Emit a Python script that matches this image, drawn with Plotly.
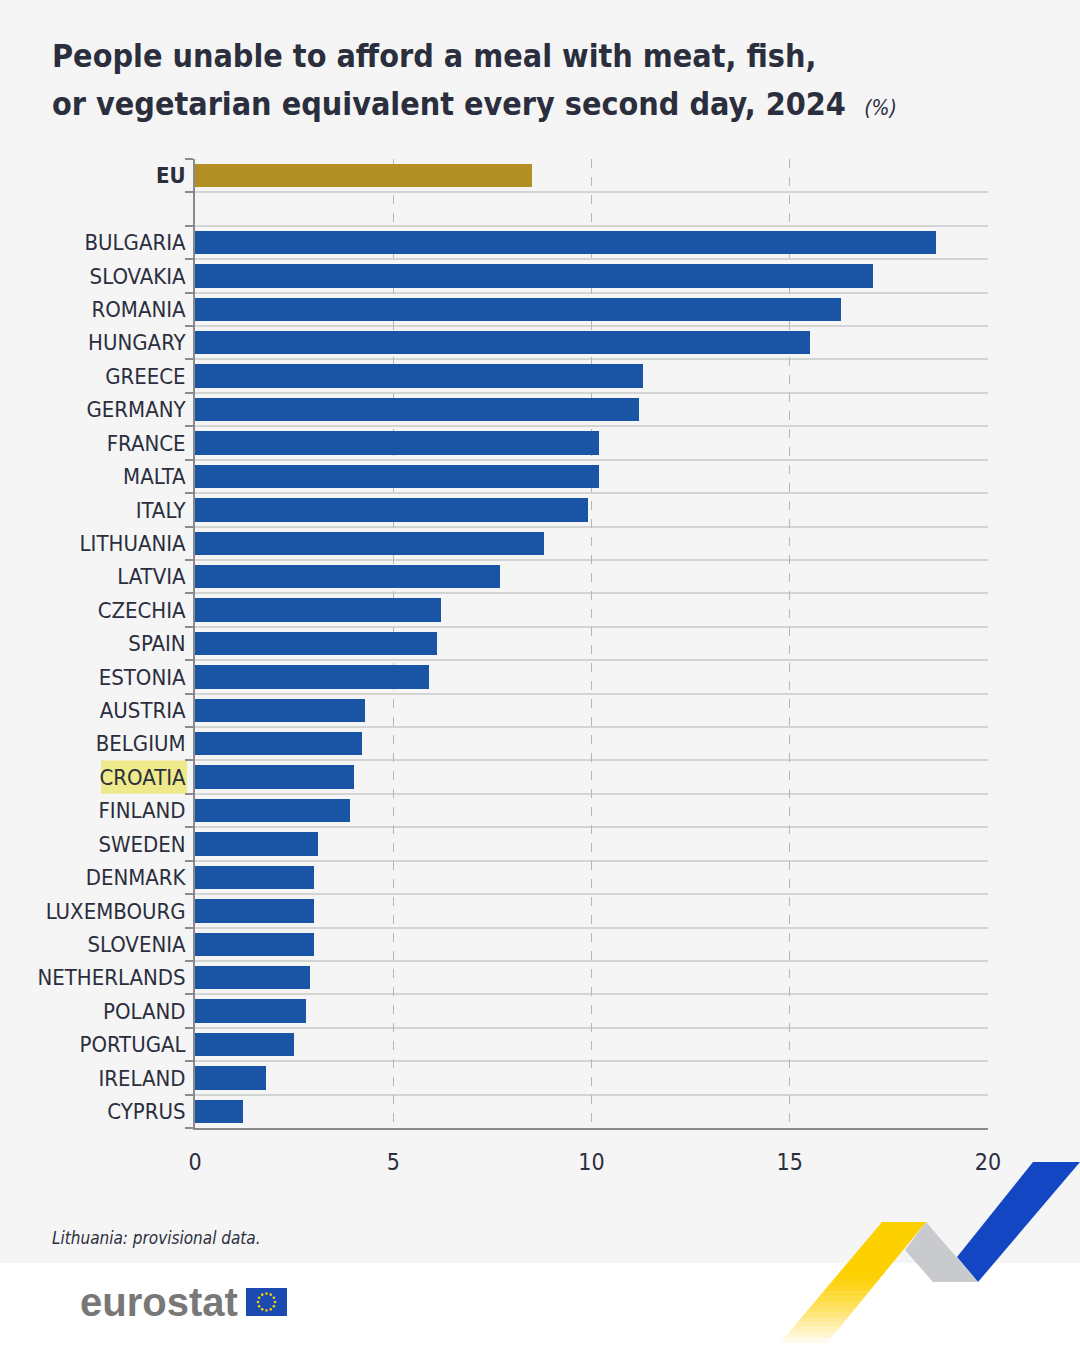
import math
import plotly.graph_objects as go

countries = ["EU", "", "BULGARIA", "SLOVAKIA", "ROMANIA", "HUNGARY", "GREECE", "GERMANY",
             "FRANCE", "MALTA", "ITALY", "LITHUANIA", "LATVIA", "CZECHIA", "SPAIN",
             "ESTONIA", "AUSTRIA", "BELGIUM", "CROATIA", "FINLAND", "SWEDEN", "DENMARK",
             "LUXEMBOURG", "SLOVENIA", "NETHERLANDS", "POLAND", "PORTUGAL", "IRELAND", "CYPRUS"]
values = [8.5, None, 18.7, 17.1, 16.3, 15.5, 11.3, 11.2, 10.2, 10.2, 9.9, 8.8, 7.7, 6.2, 6.1,
          5.9, 4.3, 4.2, 4.0, 3.9, 3.1, 3.0, 3.0, 3.0, 2.9, 2.8, 2.5, 1.8, 1.2]
x_ticks = [0, 5, 10, 15, 20]

W, H = 1080, 1364
L, R, T, B = 195, 988, 159, 1128
FONT = "DejaVu Sans Condensed, DejaVu Sans, sans-serif"
TXT = "#2b2e3d"


def px(x):
    return (x - L) / (R - L)


def py(y):
    return (B - y) / (B - T)


ypos = list(range(len(countries)))
colors = ["#b28f22" if c == "EU" else "#1a55a5" for c in countries]

fig = go.Figure()
fig.add_trace(go.Bar(
    x=values, y=ypos, orientation="h", width=0.70,
    marker=dict(color=colors, line=dict(width=0)),
    hoverinfo="skip",
))

ticktext = ["<b>EU</b>" if c == "EU" else c for c in countries]

shapes = []
shapes.append(dict(type="rect", xref="paper", yref="paper", x0=px(0), x1=px(W),
                   y0=py(1263), y1=py(0), fillcolor="#f5f5f5", line=dict(width=0), layer="below"))
ci = countries.index("CROATIA")
shapes.append(dict(type="rect", xref="paper", yref="y", x0=px(101), x1=px(187),
                   y0=ci - 0.5, y1=ci + 0.5, fillcolor="#eee98a", line=dict(width=0), layer="below"))


def path(pts):
    return "M " + " L ".join(f"{px(a)},{py(b)}" for a, b in pts) + " Z"


shapes.append(dict(type="path", xref="paper", yref="paper",
                   path=path([(1033, 1162), (1080, 1162), (978, 1282), (957, 1257)]),
                   fillcolor="#1346c2", line=dict(width=0)))
shapes.append(dict(type="path", xref="paper", yref="paper",
                   path=path([(905, 1250), (926, 1222), (978, 1282), (933, 1282)]),
                   fillcolor="#c9cacd", line=dict(width=0)))

# yellow ribbon, fading to white toward its lower end
tl, tr, bl, br = (882, 1222), (926, 1222), (780, 1343), (827, 1343)


def lerp(p, q, f):
    return (p[0] + (q[0] - p[0]) * f, p[1] + (q[1] - p[1]) * f)


top_rgb, end_rgb = (253, 208, 0), (255, 250, 235)
steps = 14
cuts = [0.0] + [0.4 + 0.6 * (i + 1) / steps for i in range(steps)]
for i in range(steps):
    f0, f1 = cuts[i], cuts[i + 1]
    t = (i / (steps - 1)) ** 1.3
    col = "rgb(%d,%d,%d)" % tuple(round(a + (b - a) * t) for a, b in zip(top_rgb, end_rgb))
    pts = [lerp(tl, bl, f0), lerp(tr, br, f0), lerp(tr, br, f1 + 0.003), lerp(tl, bl, f1 + 0.003)]
    shapes.append(dict(type="path", xref="paper", yref="paper", path=path(pts),
                       fillcolor=col, line=dict(width=0)))

# EU flag next to the logo
shapes.append(dict(type="rect", xref="paper", yref="paper", x0=px(246), x1=px(287),
                   y0=py(1316), y1=py(1288), fillcolor="#1b4bb0", line=dict(width=0)))
for k in range(12):
    a = 2 * math.pi * k / 12
    cx, cy = 266.5 + 8.5 * math.cos(a), 1302 + 8.5 * math.sin(a)
    shapes.append(dict(type="circle", xref="paper", yref="paper",
                       x0=px(cx - 1.3), x1=px(cx + 1.3), y0=py(cy + 1.3), y1=py(cy - 1.3),
                       fillcolor="#f5d000", line=dict(width=0)))

annotations = [
    dict(xref="paper", yref="paper", x=px(50), y=py(56), xanchor="left", yanchor="middle",
         align="left", showarrow=False,
         text="<b>People unable to afford a meal with meat, fish,</b>",
         font=dict(family=FONT, size=32, color=TXT)),
    dict(xref="paper", yref="paper", x=px(50), y=py(104), xanchor="left", yanchor="middle",
         align="left", showarrow=False,
         text="<b>or vegetarian equivalent every second day, 2024</b>"
              "  <span style='font-size:21px'><i>(%)</i></span>",
         font=dict(family=FONT, size=32, color=TXT)),
    dict(xref="paper", yref="paper", x=px(50), y=py(1238), xanchor="left", yanchor="middle",
         showarrow=False, text="<i>Lithuania: provisional data.</i>",
         font=dict(family=FONT, size=17, color=TXT)),
    dict(xref="paper", yref="paper", x=px(78), y=py(1302), xanchor="left", yanchor="middle",
         showarrow=False, text="<b>eurostat</b>",
         font=dict(family="Liberation Sans, Arial, sans-serif", size=40, color="#787878")),
]

fig.update_layout(
    width=W, height=H,
    margin=dict(l=L, r=W - R, t=T, b=H - B, pad=0, autoexpand=False),
    paper_bgcolor="white", plot_bgcolor="rgba(0,0,0,0)",
    showlegend=False, bargap=0,
    shapes=shapes, annotations=annotations,
    xaxis=dict(range=[0, 20], tickvals=x_ticks, ticktext=[str(v) for v in x_ticks],
               showgrid=True, gridcolor="#b5b5b5", griddash="dash", gridwidth=1,
               zeroline=False, showline=True, linecolor="#8a8a8a", linewidth=2,
               ticks="", ticklabelstandoff=12, automargin=False,
               tickfont=dict(family=FONT, size=23, color=TXT), fixedrange=True),
    yaxis=dict(range=[len(countries) - 0.5, -0.5], tickvals=ypos, ticktext=ticktext,
               showgrid=False, zeroline=False, showline=True, linecolor="#8a8a8a", linewidth=2,
               ticks="", ticklabelstandoff=3, automargin=False,
               tickfont=dict(family=FONT, size=22, color=TXT),
               minor=dict(tickvals=[i - 0.5 for i in range(len(countries) + 1)],
                          showgrid=True, gridcolor="#d4d4d4", gridwidth=2,
                          ticks="outside", ticklen=8, tickcolor="#8a8a8a", tickwidth=2),
               fixedrange=True),
)

fig.write_html("out.html", config={"displayModeBar": False},
               post_script="document.body.style.margin='0';")
